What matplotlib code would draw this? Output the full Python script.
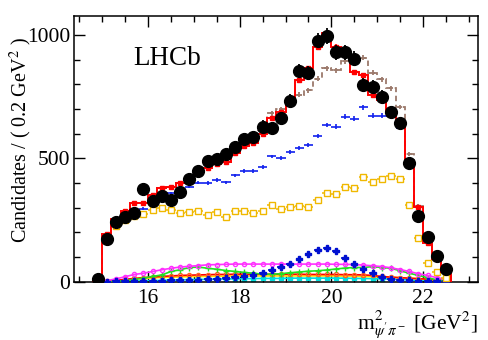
import numpy as np
import matplotlib
matplotlib.use("Agg")
import matplotlib.pyplot as plt

plt.rcParams["font.family"] = ["Liberation Serif", "DejaVu Serif"]
plt.rcParams["mathtext.fontset"] = "stix"

# --- binning: 0.2 GeV^2 bins --------------------------------------------
edges = np.round(np.arange(14.8, 22.61, 0.2), 2)
centers = 0.5 * (edges[:-1] + edges[1:])

# --- data points ---------------------------------------------------------
data = [12, 174, 243, 264, 278, 375, 328, 348, 331, 362, 417, 451, 490, 499,
        518, 545, 578, 586, 629, 623, 664, 732, 855, 845, 977, 996, 930, 930,
        904, 798, 789, 749, 688, 644, 480, 268, 183, 106, 53]

# total fit (red) and alternative fit (brown dashed)
fit_total = [3, 194, 255, 289, 319, 321, 350, 379, 386, 400, 424, 453, 460,
             478, 484, 521, 550, 564, 599, 665, 690, 740, 816, 865, 953, 1007,
             953, 939, 851, 837, 757, 737, 697, 650, 478, 302, 159, 92, 38]
fit_alt = [3, 194, 255, 289, 319, 321, 350, 379, 386, 400, 430, 453, 460,
           478, 484, 521, 550, 564, 610, 683, 700, 738, 758, 776, 822, 866,
           857, 893, 908, 908, 848, 821, 784, 709, 518, 308, 170, 100, 40]

# main components
comp_blue = [5, 172, 230, 260, 283, 297, 322, 342, 359, 372, 386, 402, 400,
             412, 403, 431, 449, 449, 465, 508, 503, 525, 544, 556, 592, 636,
             629, 669, 661, 707, 673, 673, 673, 625, 469, 280, 160, 96, 40]
comp_yellow = [3, 172, 228, 250, 265, 275, 292, 300, 290, 278, 282, 288, 271,
               281, 264, 287, 287, 278, 287, 312, 297, 305, 309, 305, 330, 360,
               355, 386, 382, 425, 406, 416, 430, 417, 312, 178, 76, 38, 15]

# small components near the bottom
comp_magenta = [0, 5, 12, 21, 30, 35, 42, 49, 55, 60, 63, 66, 69, 70, 71, 72,
                72, 72, 72, 72, 72, 72, 72, 72, 72, 72, 71, 71, 70, 68, 65, 62,
                57, 50, 42, 33, 26, 17, 10]
comp_green = [0, 0, 2, 5, 10, 15, 22, 28, 42, 49, 58, 60, 55, 51, 46, 42, 38,
              35, 31, 31, 33, 37, 40, 43, 45, 48, 52, 56, 58, 58, 62, 58, 55,
              45, 35, 26, 17, 8, 4]
comp_navy = [0, 1, 2, 2, 3, 3, 4, 5, 6, 7, 8, 9, 11, 13, 16, 19, 23, 28, 35,
             47, 59, 73, 93, 113, 131, 139, 125, 98, 72, 51, 34, 20, 12, 9, 7,
             5, 4, 3, 3]
comp_orange = [0, 2, 6, 10, 14, 17, 20, 22, 24, 26, 27, 28, 29, 30, 30, 31, 31,
               31, 31, 31, 31, 31, 31, 30, 30, 30, 30, 29, 29, 28, 26, 22, 19,
               17, 15, 13, 11, 8, 4]
comp_gold = [0, 1, 4, 8, 11, 14, 16, 18, 19, 20, 21, 22, 22, 23, 23, 24, 24,
             24, 24, 24, 24, 24, 24, 24, 24, 24, 24, 23, 23, 22, 21, 20, 19, 17,
             15, 12, 9, 6, 3]
comp_cyan = [0, 0, 1, 2, 3, 4, 5, 6, 7, 8, 9, 10, 10, 11, 12, 12, 13, 13, 14,
             14, 14, 15, 15, 15, 15, 15, 15, 15, 14, 14, 13, 12, 11, 10, 8, 6,
             4, 3, 1]

x_ticks = [16, 18, 20, 22]
y_ticks = [0, 500, 1000]

fig = plt.figure(figsize=(4.89, 3.40), dpi=100)
ax = fig.add_axes([0.151, 0.171, 0.8265, 0.782])

# bottom components
ax.plot(centers, comp_cyan, color="#00dddd", lw=1.2, marker="s", ms=2.5, zorder=2)
ax.plot(centers, comp_gold, color="#ffe000", lw=1.2, zorder=2)
ax.plot(centers, comp_orange, color="#ff0000", lw=1.2, marker="o", ms=3,
        mfc="none", mec="#ff6020", zorder=3)
ax.plot(centers, comp_green, color="#22e022", lw=1.2, marker="+", ms=5, zorder=3)
ax.plot(centers, comp_magenta, color="#ff30ff", lw=1.2, marker="o", ms=3,
        mfc="none", zorder=3)
ax.errorbar(centers, comp_navy, xerr=0.08, yerr=np.sqrt(comp_navy) * 0.6,
            fmt="P", color="#0010d0", ms=4, lw=1.2, capsize=0, zorder=3)

# big components
ax.errorbar(centers, comp_yellow, xerr=0.1, yerr=np.sqrt(comp_yellow) * 0.3,
            fmt="s", color="#f0b800", mfc="white", ms=4, lw=1.1, capsize=0,
            zorder=4)
ax.errorbar(centers, comp_blue, xerr=0.1, yerr=np.sqrt(comp_blue) * 0.35,
            fmt="none", color="#1020ee", lw=1.2, capsize=0, zorder=4)

# fits
ax.stairs(fit_alt, edges, baseline=0, color="#9c7a6c", lw=1.3, ls=(0, (3, 2)),
          zorder=5)
ax.errorbar(centers, fit_alt, xerr=0.05, yerr=np.sqrt(fit_alt) * 0.35,
            fmt="none", color="#9c7a6c", lw=1.3, capsize=0, zorder=5)
ax.stairs(fit_total, edges, baseline=0, color="#ff0000", lw=1.4, zorder=6)
ax.errorbar(centers, fit_total, yerr=np.sqrt(fit_total) * 0.3, fmt="s",
            color="#ff0000", ms=3.5, lw=1.2, capsize=0, zorder=6)

# data
ax.errorbar(centers, data, yerr=np.sqrt(data), fmt="o", color="black",
            ms=8.5, lw=1.3, capsize=0, zorder=7)

ax.set_xlim(14.38, 23.2)
ax.set_ylim(0, 1077)
ax.set_xticks(x_ticks)
ax.set_yticks(y_ticks)
ax.set_xticks(np.arange(14.5, 23.2, 0.5), minor=True)
ax.set_yticks(np.arange(0, 1077, 100), minor=True)
ax.tick_params(which="both", direction="in", top=True, right=True,
               labelsize=15.5, width=1.0)
ax.tick_params(axis="y", pad=2.5)
ax.tick_params(axis="x", pad=5)
ax.tick_params(which="major", length=8)
ax.tick_params(which="minor", length=4.5)
for s in ax.spines.values():
    s.set_linewidth(1.1)

ax.set_ylabel(r"Candidates / ( 0.2 GeV$^2$ )", fontsize=14.5)
ax.yaxis.set_label_coords(-0.13, 0.535)
ax.yaxis.label.set_va("center")
ax.set_xlabel(r"m$^2_{\psi'\pi^-}$ [GeV$^2$]", fontsize=15.5, ha="right",
              x=1.0, labelpad=0)
ax.text(0.146, 0.84, "LHCb", transform=ax.transAxes, fontsize=19.5,
        ha="left", va="center")

fig.savefig("out.png", dpi=100)
